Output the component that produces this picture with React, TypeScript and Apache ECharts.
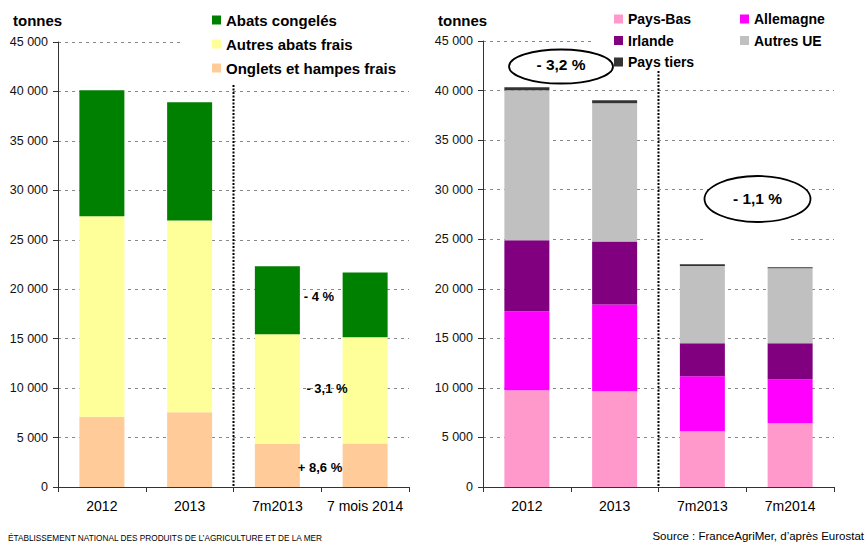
import React, { useEffect, useRef } from 'react';
import * as echarts from 'echarts';

// ---------- data ----------
const categoriesLeft = ['2012', '2013', '7m2013', '7 mois 2014'];
const categoriesRight = ['2012', '2013', '7m2013', '7m2014'];

const onglets = [7100, 7550, 4350, 4400];
const autresAbats = [20270, 19410, 11090, 10740];
const abatsCongeles = [12740, 11940, 6880, 6560];

const paysBas = [9760, 9660, 5620, 6430];
const allemagne = [7970, 8760, 5550, 4440];
const irlande = [7160, 6350, 3330, 3630];
const autresUE = [15140, 13950, 7800, 7570];
const paysTiers = [300, 300, 170, 100];

const yMin = 0;
const yMax = 45000;
const yInterval = 5000;

const leftNotes = ['- 4 %', '- 3,1 %', '+ 8,6 %'];
const rightNotes = ['- 3,2 %', '- 1,1 %'];

const unitLabel = 'tonnes';
const footerLeft = 'ÉTABLISSEMENT NATIONAL DES PRODUITS DE L’AGRICULTURE ET DE LA MER';
const footerRight = 'Source : FranceAgriMer, d’après Eurostat';

// ---------- styles ----------
const FONT = '"Liberation Sans", Arial, Helvetica, sans-serif';
const gridL = { left: 58, top: 42, width: 351, height: 445 };
const gridR = { left: 483, top: 41, width: 351, height: 446 };

const fmt = (v: number) => (v === 0 ? '0' : `${Math.round(v / 1000)} 000`);

function xAxis(idx: number, data: string[]) {
  return {
    type: 'category',
    gridIndex: idx,
    data,
    boundaryGap: true,
    axisLine: { show: true, lineStyle: { color: '#333', width: 1 } },
    axisTick: { show: true, length: 5, interval: 0, lineStyle: { color: '#333' } },
    axisLabel: { interval: 0, fontSize: 14, color: '#000', margin: 12, fontFamily: FONT },
    splitLine: { show: false },
  };
}

function yAxis(idx: number) {
  return {
    type: 'value',
    gridIndex: idx,
    min: yMin,
    max: yMax,
    interval: yInterval,
    axisLine: { show: true, lineStyle: { color: '#333', width: 1 } },
    axisTick: { show: true, length: 5, lineStyle: { color: '#333' } },
    axisLabel: { fontSize: 12.5, color: '#111', margin: 10, fontFamily: FONT, formatter: fmt },
    splitLine: { show: true, lineStyle: { color: '#888', type: [3, 4], width: 1 } },
  };
}

function bar(name: string, data: number[], color: string, idx: number, stack: string) {
  return {
    name,
    type: 'bar',
    stack,
    xAxisIndex: idx,
    yAxisIndex: idx,
    data,
    barWidth: 45,
    itemStyle: { color },
    emphasis: { disabled: true },
  };
}

const legendText = (size: number, lh: number) => ({
  fontSize: size,
  fontWeight: 'bold',
  fontFamily: FONT,
  color: '#000',
  lineHeight: lh,
});

const txt = (text: string, x: number, y: number, size: number, opts: any = {}) => ({
  type: 'text',
  x,
  y,
  z: 10,
  scaleX: opts.scaleX || 1,
  style: {
    text,
    fontSize: size,
    fontFamily: FONT,
    fontWeight: opts.bold ? 'bold' : 'normal',
    fill: '#000',
    textAlign: opts.align || 'left',
    verticalAlign: 'middle',
    textVerticalAlign: 'middle',
  },
});

const sepL = gridL.left + gridL.width / 2;
const sepR = gridR.left + gridR.width / 2;

const option: any = {
  animation: false,
  backgroundColor: '#fff',
  grid: [
    { ...gridL, containLabel: false },
    { ...gridR, containLabel: false },
  ],
  xAxis: [xAxis(0, categoriesLeft), xAxis(1, categoriesRight)],
  yAxis: [yAxis(0), yAxis(1)],
  legend: [
    {
      data: ['Abats congelés', 'Autres abats frais', 'Onglets et hampes frais'],
      orient: 'vertical',
      left: 212,
      top: 12,
      padding: 0,
      itemWidth: 9,
      itemHeight: 9,
      itemGap: 8,
      icon: 'rect',
      selectedMode: false,
      textStyle: legendText(15, 16),
      z: 20,
    },
    {
      data: ['Pays-Bas', 'Irlande', 'Pays tiers'],
      orient: 'vertical',
      left: 614,
      top: 11.5,
      padding: 0,
      itemWidth: 9,
      itemHeight: 9,
      itemGap: 6.5,
      icon: 'rect',
      selectedMode: false,
      textStyle: legendText(14, 15),
      z: 20,
    },
    {
      data: ['Allemagne', 'Autres UE'],
      orient: 'vertical',
      left: 740,
      top: 11.5,
      padding: 0,
      itemWidth: 9,
      itemHeight: 9,
      itemGap: 6.5,
      icon: 'rect',
      selectedMode: false,
      textStyle: legendText(14, 15),
      z: 20,
    },
  ],
  series: [
    bar('Onglets et hampes frais', onglets, '#FFCC99', 0, 'L'),
    bar('Autres abats frais', autresAbats, '#FFFF99', 0, 'L'),
    bar('Abats congelés', abatsCongeles, '#008000', 0, 'L'),
    bar('Pays-Bas', paysBas, '#FF99CC', 1, 'R'),
    bar('Allemagne', allemagne, '#FF00FF', 1, 'R'),
    bar('Irlande', irlande, '#800080', 1, 'R'),
    bar('Autres UE', autresUE, '#C0C0C0', 1, 'R'),
    bar('Pays tiers', paysTiers, '#333333', 1, 'R'),
  ],
  graphic: [
    // white legend / text-box backgrounds hiding gridlines
    { type: 'rect', z: 1, shape: { x: 182, y: 34, width: 230, height: 14 }, style: { fill: '#fff' } },
    { type: 'rect', z: 1, shape: { x: 592, y: 33, width: 250, height: 14 }, style: { fill: '#fff' } },
    { type: 'rect', z: 1, shape: { x: 706, y: 233, width: 84, height: 10 }, style: { fill: '#fff' } },
    // separators
    {
      type: 'line',
      z: 5,
      shape: { x1: sepL, y1: 85, x2: sepL, y2: gridL.top + gridL.height },
      style: { stroke: '#000', lineWidth: 2, lineDash: [2, 1.5] },
    },
    {
      type: 'line',
      z: 5,
      shape: { x1: sepR, y1: 71, x2: sepR, y2: gridR.top + gridR.height },
      style: { stroke: '#000', lineWidth: 2, lineDash: [2, 1.5] },
    },
    // unit labels
    txt(unitLabel, 13, 20, 15, { bold: true }),
    txt(unitLabel, 438, 20, 15, { bold: true }),
    // left notes
    txt(leftNotes[0], 319, 296, 13, { bold: true, align: 'center' }),
    txt(leftNotes[1], 327, 388, 13, { bold: true, align: 'center' }),
    txt(leftNotes[2], 320, 467, 13, { bold: true, align: 'center' }),
    // right ellipses
    {
      type: 'ellipse',
      z: 8,
      shape: { cx: 561, cy: 66.5, rx: 52, ry: 17 },
      style: { fill: '#fff', stroke: '#000', lineWidth: 1.8 },
    },
    txt(rightNotes[0], 561, 64, 15.5, { bold: true, align: 'center' }),
    {
      type: 'ellipse',
      z: 8,
      shape: { cx: 757.5, cy: 199, rx: 53, ry: 23 },
      style: { fill: '#fff', stroke: '#000', lineWidth: 1.8 },
    },
    txt(rightNotes[1], 757.5, 198, 15.5, { bold: true, align: 'center' }),
    // footers
    txt(footerLeft, 8, 538, 9.5, { scaleX: 0.87 }),
    txt(footerRight, 864, 536, 11.5, { align: 'right' }),
  ],
};

export default function App() {
  const ref = useRef<HTMLDivElement>(null);
  useEffect(() => {
    if (!ref.current) return;
    const chart = echarts.init(ref.current, null, { renderer: 'svg' });
    chart.setOption(option);
    return () => chart.dispose();
  }, []);
  return (
    <div
      ref={ref}
      style={{ position: 'absolute', left: 0, top: 0, width: 868, height: 544, background: '#fff' }}
    />
  );
}
